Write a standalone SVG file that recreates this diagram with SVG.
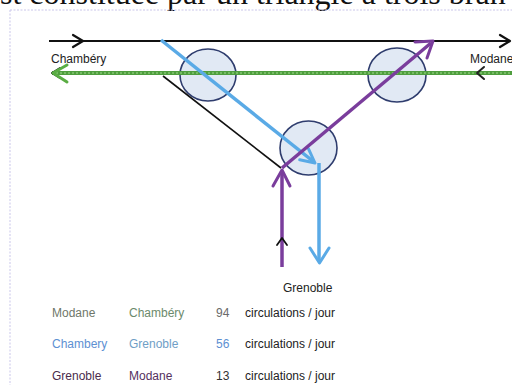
<svg xmlns="http://www.w3.org/2000/svg" width="512" height="385" viewBox="0 0 512 385">
<style>
.lbl{font-family:"Liberation Sans",Arial,sans-serif;font-size:12px}
.junction{fill:#e1e9f4;stroke:#2f3d6e;stroke-width:1.6}
.chev{fill:none;stroke-linecap:round;stroke-linejoin:round}
</style>
<rect width="512" height="385" fill="#ffffff"/>
<text x="0" y="3.5" font-family="'Liberation Serif','Times New Roman',serif" font-size="32" fill="#111">st constituée par un triangle à trois bran</text>
<path d="M10,10 H512 M10,10 V385" fill="none" stroke="#c9c6ea" stroke-width="1" stroke-dasharray="2,1.5"/>
<g id="junction-left"><ellipse class="junction" cx="208" cy="75" rx="28" ry="26"/></g>
<g id="junction-right"><ellipse class="junction" cx="397" cy="75" rx="29" ry="27"/></g>
<g id="junction-bottom"><ellipse class="junction" cx="308.5" cy="148" rx="28.5" ry="27"/></g>
<g id="connectors">
<g id="black-top">
<line x1="49" y1="41" x2="510" y2="41" stroke="#111" stroke-width="2.2"/>
<polyline class="chev" points="73,35 83,41 73,47" stroke="#111" stroke-width="2.2"/>
<polyline class="chev" points="500,35 510,41 500,47" stroke="#111" stroke-width="2.2"/>
</g>
<g id="black-diag">
<line x1="163" y1="76" x2="281" y2="168" stroke="#111" stroke-width="1.6"/>
</g>
<g id="green">
<line x1="52" y1="73" x2="512" y2="73" stroke="#4f9e3e" stroke-width="4"/>
<line x1="56" y1="73" x2="512" y2="73" stroke="#9fd88c" stroke-width="1" stroke-dasharray="2,2"/>
<polyline class="chev" points="60,68 52,73 60,78" stroke="#111" stroke-width="2"/>
<polyline class="chev" points="67,65 53,73 67,82" stroke="#5aad44" stroke-width="3"/>
<polyline class="chev" points="484,67 477,73 484,79" stroke="#222" stroke-width="2"/>
</g>
<g id="blue">
<line x1="161" y1="40" x2="314" y2="162" stroke="#5aaae6" stroke-width="3.5"/>
<polyline class="chev" points="299.7,159.8 315,163 308.5,148.8" stroke="#5aaae6" stroke-width="3"/>
<line x1="319" y1="163" x2="319" y2="262" stroke="#5aaae6" stroke-width="3.5"/>
<polyline class="chev" points="310,248 319.5,263 329,248" stroke="#5aaae6" stroke-width="3"/>
</g>
<g id="purple">
<line x1="282" y1="267" x2="282" y2="171" stroke="#7a3d9c" stroke-width="3.5"/>
<polyline class="chev" points="273,186 282,170 290,186" stroke="#7a3d9c" stroke-width="3"/>
<polyline class="chev" points="277,245 282,238 287,245" stroke="#111" stroke-width="1.8"/>
<line x1="282" y1="168" x2="431" y2="43" stroke="#7a3d9c" stroke-width="3.5"/>
<polyline class="chev" points="415,42 433,41 427,58" stroke="#7a3d9c" stroke-width="3"/>
</g>
</g>
<text class="lbl" x="51" y="63" fill="#222">Chambéry</text>
<text class="lbl" x="470" y="63" fill="#222">Modane</text>
<text class="lbl" x="283" y="292" fill="#222">Grenoble</text>
<g id="legend">
<text class="lbl" x="52" y="317" fill="#6f776a">Modane</text>
<text class="lbl" x="129" y="317" fill="#6c8a6c">Chambéry</text>
<text class="lbl" x="216" y="317" fill="#6a6a6a">94</text>
<text class="lbl" x="245" y="317" fill="#222">circulations / jour</text>
<text class="lbl" x="52" y="348" fill="#5d90d2">Chambery</text>
<text class="lbl" x="129" y="348" fill="#6f9ec6">Grenoble</text>
<text class="lbl" x="216" y="348" fill="#5d90d2">56</text>
<text class="lbl" x="245" y="348" fill="#222">circulations / jour</text>
<text class="lbl" x="52" y="380" fill="#4a2b4c">Grenoble</text>
<text class="lbl" x="129" y="380" fill="#55305e">Modane</text>
<text class="lbl" x="216" y="380" fill="#333">13</text>
<text class="lbl" x="245" y="380" fill="#222">circulations / jour</text>
</g>
</svg>
